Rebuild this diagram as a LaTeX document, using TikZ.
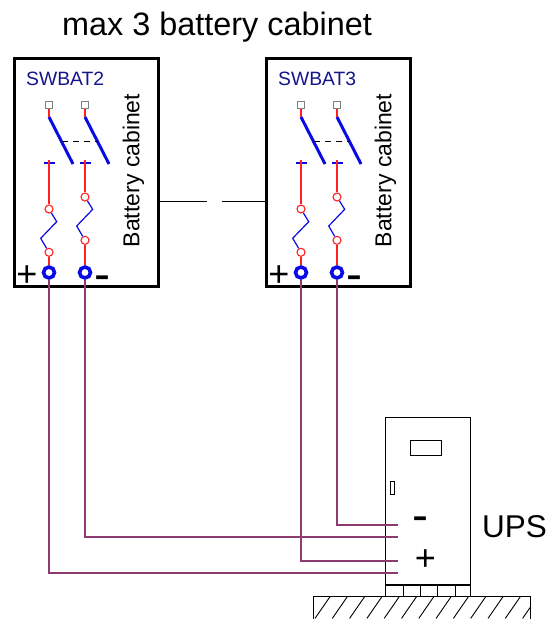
\documentclass[tikz,border=0pt]{standalone}
\usepackage{fontspec}
\setmainfont{Liberation Sans}
\definecolor{wire}{HTML}{8E3B72}
\definecolor{fuse}{HTML}{FF2020}
\definecolor{sw}{HTML}{0A0AE6}
\definecolor{lab}{HTML}{14148C}
\tikzset{
 cabinet/.style={draw=black,line width=3pt,minimum width=144pt,minimum height=228pt,inner sep=0pt},
 ring/.style={circle,draw=sw,line width=3.6pt,minimum size=11pt,inner sep=0pt},
 joint/.style={circle,draw=fuse,fill=white,line width=1.1pt,minimum size=8pt,inner sep=0pt},
 contact/.style={rectangle,draw=black!50,fill=white,line width=1.1pt,minimum size=7pt,inner sep=0pt},
 redline/.style={draw=fuse,line width=1.2pt},
 blade/.style={draw=sw,line width=3pt},
 coil/.style={draw=sw,line width=1.2pt},
 wireline/.style={draw=wire,line width=1.15pt},
 blackline/.style={draw=black,line width=1pt},
 txt/.style={inner sep=0pt,font=\fontsize{#1}{#1}\selectfont}
}
\newcommand{\cabunit}[3]{%
 \begin{scope}[shift={(#2,0)}]
 \node[cabinet] (#1box) at (86,172) {};
 \node[txt=19.3,text=lab,anchor=west] (#1name) at (26,78.5) {#3};
 \node[txt=23,rotate=90] (#1lab) at (133.5,170.5) {Battery cabinet};
 \foreach \p/\x/\ja/\jb/\ax/\ay/\bx/\by in {a/49/209/252.3/56.7/221.7/40.7/238.3,b/85/197/240.3/92.7/209.3/76.7/226}{
  \node[contact] (#1\p top) at (\x,105) {};
  \coordinate (#1\p s) at (\x,117);
  \coordinate (#1\p e) at ({\x+24},164);
  \draw[redline] (#1\p top) -- (#1\p s);
  \draw[blade] (#1\p s) -- (#1\p e);
  \coordinate (#1\p t) at (\x,162.5);
  \draw[draw=sw,line width=2pt] ([xshift=-5.5pt]#1\p t) -- ([xshift=5.5pt]#1\p t);
  \node[joint] (#1\p j) at (\x,\ja) {};
  \node[joint] (#1\p k) at (\x,\jb) {};
  \draw[draw=sw,line width=1.4pt] (#1\p t) -- ++(0,3);
  \draw[redline] ([yshift=3pt]#1\p t) -- (#1\p j);
  \draw[coil] (#1\p j) -- (\ax,\ay) -- (\bx,\by) -- (#1\p k);
  \node[ring] (#1\p r) at (\x,272.5) {};
  \draw[redline] (#1\p k) -- (#1\p r);
 }
 \draw[draw=black,line width=.9pt,dash pattern=on 6pt off 5pt] (62,141) -- (98,141);
 \node[txt=36] (#1plus) at (27,276) {+};
 \node[txt=48] (#1minus) at (102.5,283) {-};
 \end{scope}}
\begin{document}
\begin{tikzpicture}[x=1pt,y=-1pt]
\useasboundingbox (0,0) rectangle (552,619);
\node[txt=32.4,anchor=center] (title) at (217,27) {max 3 battery cabinet};
\cabunit{L}{0}{SWBAT2}
\cabunit{R}{252}{SWBAT3}
% link between cabinets
\coordinate (g1) at (207,201);
\coordinate (g2) at (222,201);
\draw[blackline] (Lbox.east |- g1) -- (g1);
\draw[blackline] (g2) -- (Rbox.west |- g2);
% floor
\draw[blackline] (313,619) -- (313,596.7) -- (530,596.7) -- (530,619);
\begin{scope}
\clip (313,596.7) rectangle (530,619);
\foreach \i in {-1,...,12}{
 \draw[draw=black,line width=.9pt] ({315+\i*17.3},618.4) -- ({330+\i*17.3},596.7);
}
\end{scope}
% UPS
\node[draw=black,line width=1pt,minimum width=84.3pt,minimum height=179.7pt,inner sep=0pt] (ups) at (427.85,506.85) {};
\node[draw=black,line width=1pt,minimum width=31.7pt,minimum height=14.8pt,inner sep=0pt] (win) at (425.85,448.1) {};
\node[draw=black,line width=1pt,minimum width=4pt,minimum height=12.5pt,inner sep=0pt] (hdl) at (392.5,487.75) {};
\draw[draw=black,line width=1.4pt] (ups.west |- 0,585) -- (ups.east |- 0,585);
\foreach \x in {403.3,420.7,437.7,455.7}{\draw[blackline] (\x,585) -- (\x,596.7);}
\node[txt=31.5] (upslab) at (514.5,527) {UPS};
\node[txt=48] (upsminus) at (420,524) {-};
\node[txt=36] (upsplus) at (425.5,560.5) {+};
% wires
\coordinate (ua) at (398,573);
\coordinate (ub) at (398,537);
\coordinate (uc) at (398,561);
\coordinate (ud) at (398,525);
\draw[wireline] (Lar) -- (Lar |- ua) -- (ua);
\draw[wireline] (Lbr) -- (Lbr |- ub) -- (ub);
\draw[wireline] (Rar) -- (Rar |- uc) -- (uc);
\draw[wireline] (Rbr) -- (Rbr |- ud) -- (ud);
\end{tikzpicture}
\end{document}
